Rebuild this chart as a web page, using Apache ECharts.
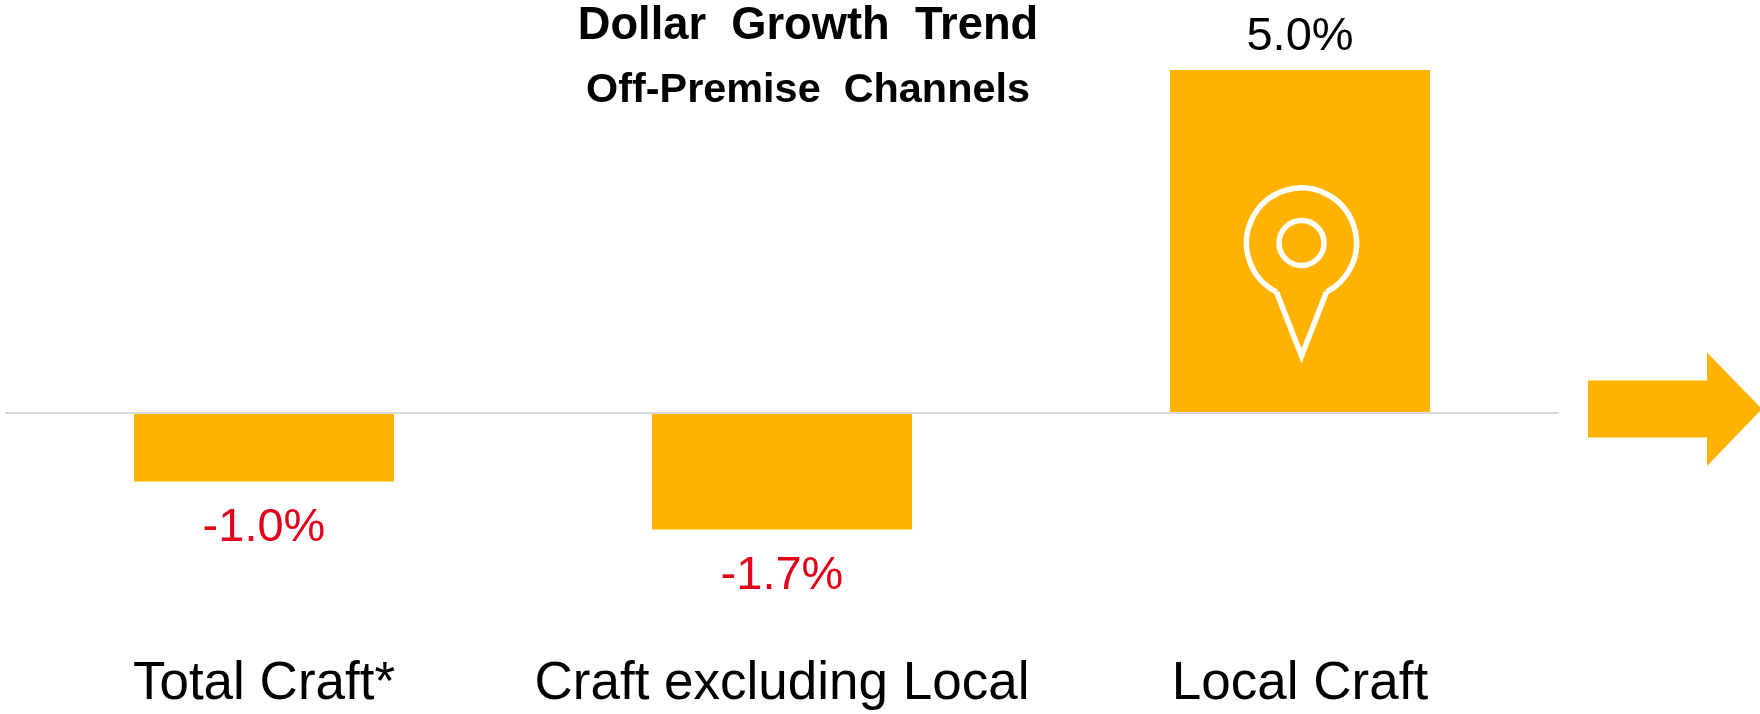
<!DOCTYPE html>
<html>
<head>
<meta charset="utf-8">
<style>
  html, body { margin: 0; padding: 0; background: #fff; }
  #chart { width: 1760px; height: 714px; }
</style>
<script src="https://cdn.jsdelivr.net/npm/echarts@6/dist/echarts.min.js"></script>
</head>
<body>
<div id="chart"></div>
<script>
// Dollar growth, percent, by craft segment
const categories = ['Total Craft*', 'Craft excluding Local', 'Local Craft'];
const growth = [-1.0, -1.7, 5.0];

const FONT = '"Liberation Sans", Arial, Helvetica, sans-serif';
const AMBER = '#FFB200';
const RED = '#E2001A';
const INK = '#000000';

const chart = echarts.init(document.getElementById('chart'), null, { renderer: 'canvas' });

chart.setOption({
  animation: false,
  backgroundColor: '#ffffff',
  title: {
    text: 'Dollar  Growth  Trend',
    subtext: 'Off-Premise  Channels',
    left: 803,
    top: -1,
    textAlign: 'center',
    itemGap: 21,
    textStyle: { fontFamily: FONT, fontSize: 45.3, fontWeight: 'bold', color: INK },
    subtextStyle: { fontFamily: FONT, fontSize: 41.4, fontWeight: 'bold', color: INK }
  },
  grid: { left: 5, width: 1554, top: 70, height: 548.8 },
  xAxis: {
    type: 'category',
    data: categories,
    position: 'bottom',
    axisLine: { show: false, onZero: false },
    axisTick: { show: false },
    axisLabel: { fontFamily: FONT, fontSize: 53, color: INK, margin: 39, interval: 0 }
  },
  yAxis: { type: 'value', min: -3, max: 5, interval: 1, show: false },
  series: [{
    type: 'bar',
    data: growth.map(v => ({
      value: v,
      label: { color: v < 0 ? RED : INK, distance: v < 0 ? 23 : 9 }
    })),
    barWidth: 260,
    itemStyle: { color: AMBER },
    label: {
      show: true,
      position: 'outside',
      fontFamily: FONT,
      fontSize: 47,
      formatter: p => p.value.toFixed(1) + '%'
    },
    markLine: {
      silent: true,
      symbol: 'none',
      label: { show: false },
      lineStyle: { color: '#D9D9D9', width: 2, type: 'solid' },
      data: [{ yAxis: 0 }]
    }
  }],
  graphic: [
    // Location pin on the Local Craft bar
    {
      type: 'arc',
      z: 10,
      shape: {
        cx: 1301.5, cy: 243, r: 55,
        startAngle: 117 * Math.PI / 180,
        endAngle: 423 * Math.PI / 180,
        clockwise: true
      },
      style: { fill: null, stroke: '#fff', lineWidth: 5.5 }
    },
    {
      type: 'polyline',
      z: 10,
      shape: { points: [[1276.5, 292], [1301.5, 356], [1326.5, 292]] },
      style: { fill: null, stroke: '#fff', lineWidth: 5.5, lineJoin: 'miter', miterLimit: 10 }
    },
    {
      type: 'circle',
      z: 10,
      shape: { cx: 1301.5, cy: 243, r: 22.5 },
      style: { fill: null, stroke: '#fff', lineWidth: 5.5 }
    },
    // Block arrow at the right edge
    {
      type: 'polygon',
      z: 10,
      shape: {
        points: [[1588, 380.5], [1707, 380.5], [1707, 352.5], [1762, 409], [1707, 466], [1707, 437.5], [1588, 437.5]]
      },
      style: { fill: AMBER }
    }
  ]
});
</script>
</body>
</html>
